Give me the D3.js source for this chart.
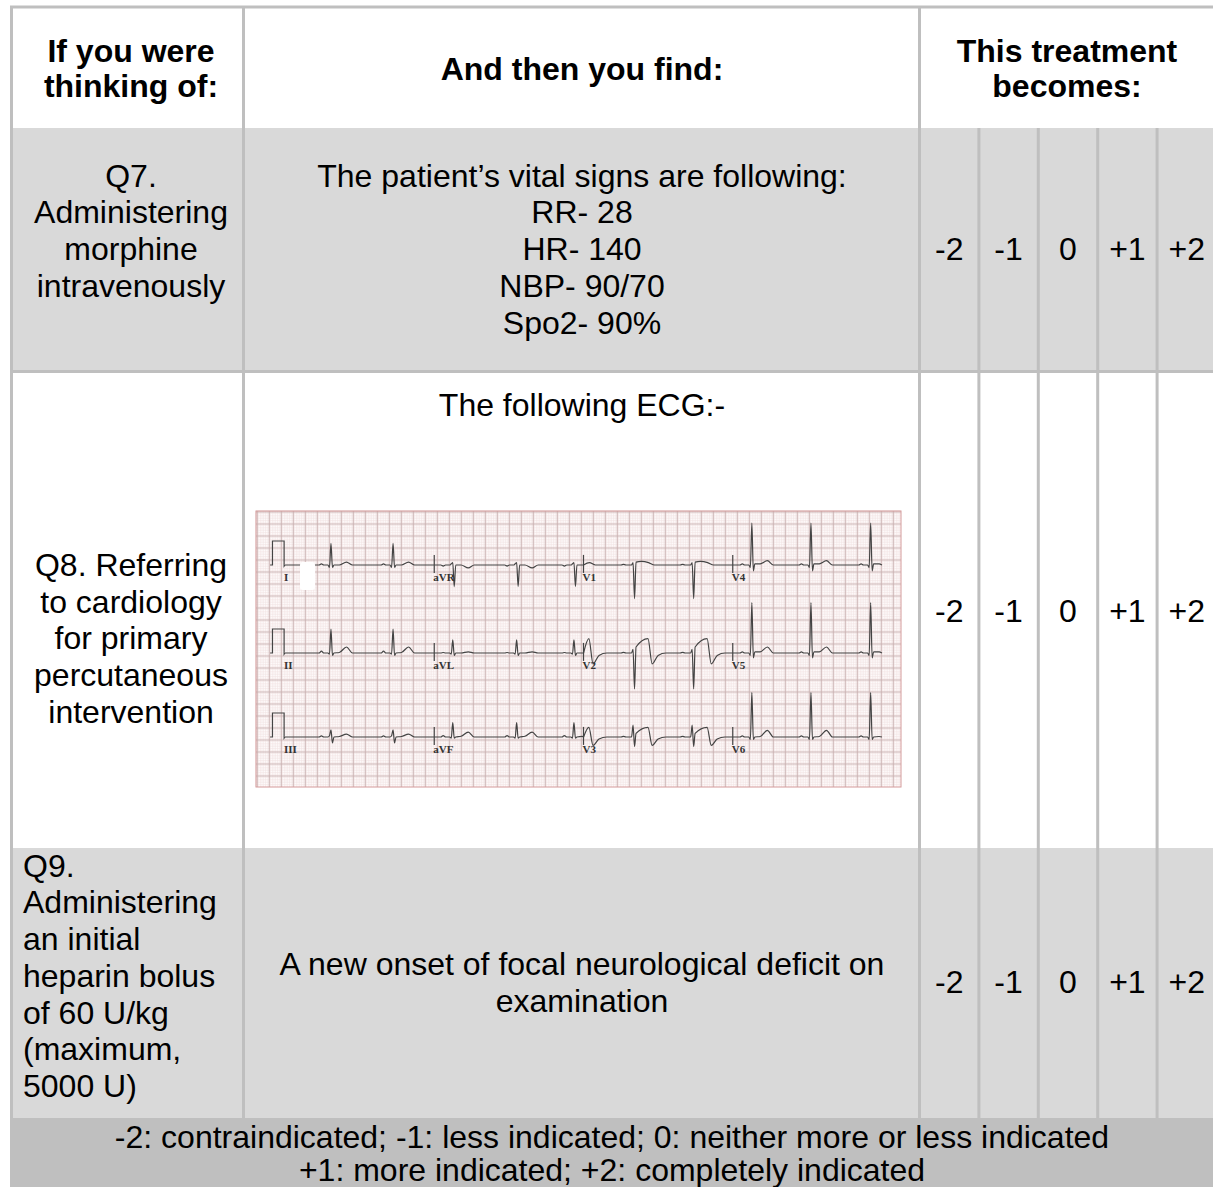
<!DOCTYPE html>
<html>
<head>
<meta charset="utf-8">
<script src="https://cdn.jsdelivr.net/npm/d3@7"></script>
<style>
  body { margin: 0; background: #fff; }
  svg { display: block; }
  text { font-family: "Liberation Sans", Arial, sans-serif; fill: #000; }
</style>
</head>
<body>
<svg id="chart"></svg>
<script>
// TEXT DATA
const headerLeft = ["If you were", "thinking of:"];
const headerMiddle = ["And then you find:"];
const headerRight = ["This treatment", "becomes:"];

const questions = [
  ["Q7.", "Administering", "morphine", "intravenously"],
  ["Q8. Referring", "to cardiology", "for primary", "percutaneous", "intervention"],
  ["Q9.", "Administering", "an initial", "heparin bolus", "of 60 U/kg", "(maximum,", "5000 U)"]
];
const findings = [
  ["The patient\u2019s vital signs are following:", "RR- 28", "HR- 140", "NBP- 90/70", "Spo2- 90%"],
  ["The following ECG:-"],
  ["A new onset of focal neurological deficit on", "examination"]
];
const scores = ["-2", "-1", "0", "+1", "+2"];
const legendLines = [
  "-2: contraindicated; -1: less indicated; 0: neither more or less indicated",
  "+1: more indicated; +2: completely indicated"
];

// ECG DATA (seconds, mV)
const beatTimes = [0.77, 1.81, 2.81, 3.88, 4.84, 5.83, 6.82, 7.82, 8.81, 9.81];
const leadRows = [["I", "aVR", "V1", "V4"], ["II", "aVL", "V2", "V5"], ["III", "aVF", "V3", "V6"]];
const leadOrder = ["I", "aVR", "V1", "V4", "II", "aVL", "V2", "V5", "III", "aVF", "V3", "V6"];
const leadP  = [0.05, -0.05, 0.03, 0.05, 0.08, 0.02, 0.03, 0.05, 0.05, 0.06, 0.03, 0.05];
const leadQ  = [-0.1, 0.05, 0, -0.1, -0.05, -0.05, 0, -0.1, 0.05, -0.05, 0, -0.1];
const leadR  = [0.9, 0.1, 0.1, 1.75, 1.0, 0.55, 0.15, 2.1, 0.3, 0.6, 0.5, 1.85];
const leadS  = [-0.1, -0.9, -1.4, -0.25, -0.1, -0.1, -1.5, -0.2, -0.25, -0.05, -0.4, -0.1];
const leadJ  = [0, 0, 0.12, 0.05, 0, 0, 0.25, 0.05, 0, 0, 0.15, 0];
const leadST = [0, 0, 0.15, 0.05, 0.02, 0, 0.6, 0.05, 0.02, 0.03, 0.4, 0.02];
const leadT  = [0.12, -0.12, 0.1, 0.18, 0.25, 0.05, -0.45, 0.25, 0.12, 0.2, -0.35, 0.28];
const leadU  = [0, 0, 0, 0, 0, 0, -0.1, 0, 0, 0, -0.08, 0];
const covedLeads = ["V2", "V3"];
const normalShape = [-0.2, -0.16, -0.12, -0.05, -0.025, 0, 0.025, 0.05, 0.14, 0.26, 0.36, 0.42];
const covedShape  = [-0.2, -0.16, -0.12, -0.05, -0.025, 0, 0.025, 0.05, 0.25, 0.32, 0.42, 0.55];
const calibPulse = [[-0.25, 0], [-0.21, 0], [-0.21, 1], [-0.015, 1], [-0.015, -0.05], [0, 0]];

// LAYOUT
const width = 1213, height = 1187;
const border = "#bfbfbf", rowGray = "#d9d9d9", footGray = "#bfbfbf";
const xLeft = 10, colA = 243.5, colB = 919.5, yTop = 7;
const rowEdges = [128, 370, 848, 1118];
const fontSize = 32, lineH = 36.7;

const svg = d3.select("#chart").attr("width", width).attr("height", height);

// ROW FILLS
svg.append("rect").attr("x", xLeft).attr("y", rowEdges[0]).attr("width", width - xLeft)
  .attr("height", rowEdges[1] - rowEdges[0]).attr("fill", rowGray);
svg.append("rect").attr("x", xLeft).attr("y", rowEdges[2]).attr("width", width - xLeft)
  .attr("height", rowEdges[3] - rowEdges[2]).attr("fill", rowGray);
svg.append("rect").attr("x", xLeft).attr("y", rowEdges[3]).attr("width", width - xLeft)
  .attr("height", height - rowEdges[3]).attr("fill", footGray);

// SCORE COLUMNS
const scoreX = d3.scaleBand().domain(scores).range([colB, colB + 5 * 59.4]);

// GRID LINES
const rules = svg.append("g").attr("stroke", border).attr("stroke-width", 3);
rules.append("line").attr("x1", xLeft).attr("x2", width).attr("y1", yTop).attr("y2", yTop);
rules.append("line").attr("x1", xLeft + 1.5).attr("x2", xLeft + 1.5).attr("y1", yTop).attr("y2", rowEdges[3]);
rules.append("line").attr("x1", colA).attr("x2", colA).attr("y1", yTop).attr("y2", rowEdges[3]);
rules.append("line").attr("x1", colB).attr("x2", colB).attr("y1", yTop).attr("y2", rowEdges[3]);
rules.append("line").attr("x1", xLeft).attr("x2", width).attr("y1", 371.5).attr("y2", 371.5);
rules.selectAll("line.score")
  .data(scores.slice(1))
  .enter()
  .append("line")
  .attr("class", "score")
  .attr("x1", (d) => scoreX(d)).attr("x2", (d) => scoreX(d))
  .attr("y1", rowEdges[0]).attr("y2", rowEdges[3]);

// TEXT HELPER
function textLines(g, arr, x, firstBase, anchor, weight, step) {
  g.selectAll(null)
    .data(arr)
    .enter()
    .append("text")
    .attr("x", x)
    .attr("y", (d, i) => firstBase + i * (step || lineH))
    .attr("text-anchor", anchor)
    .attr("font-size", fontSize)
    .attr("font-weight", weight)
    .text((d) => d);
}

// HEADER
const head = svg.append("g");
textLines(head, headerLeft, 131, 62, "middle", "bold", 35);
textLines(head, headerMiddle, 582, 80, "middle", "bold");
textLines(head, headerRight, 1067, 62, "middle", "bold", 35);

// BODY
const body = svg.append("g");
textLines(body, questions[0], 131, 186.7, "middle", "normal");
textLines(body, findings[0], 582, 186.7, "middle", "normal");
textLines(body, questions[1], 131, 576, "middle", "normal");
textLines(body, findings[1], 582, 416, "middle", "normal");
textLines(body, questions[2], 23, 876.7, "start", "normal");
textLines(body, findings[2], 582, 975, "middle", "normal");

const scoreBase = [260, 622, 993];
scoreBase.forEach((b) => {
  body.selectAll(null)
    .data(scores)
    .enter()
    .append("text")
    .attr("x", (d) => scoreX(d) + scoreX.bandwidth() / 2)
    .attr("y", b)
    .attr("text-anchor", "middle")
    .attr("font-size", fontSize)
    .text((d) => d);
});

// LEGEND
textLines(svg.append("g"), legendLines, 612, 1148, "middle", "normal", 33);

// ECG
const ecgBox = { x: 256, y: 511, w: 645, h: 276 };
const ecg = svg.append("g");
ecg.append("rect").attr("x", ecgBox.x).attr("y", ecgBox.y).attr("width", ecgBox.w)
  .attr("height", ecgBox.h).attr("fill", "#fdfafa");
const small = 2.4;
ecg.append("g").attr("stroke", "#f2e2e2").attr("stroke-width", 0.6)
  .selectAll("line").data(d3.range(ecgBox.x, ecgBox.x + ecgBox.w, small)).enter().append("line")
  .attr("x1", (d) => d).attr("x2", (d) => d).attr("y1", ecgBox.y).attr("y2", ecgBox.y + ecgBox.h);
ecg.append("g").attr("stroke", "#f2e2e2").attr("stroke-width", 0.6)
  .selectAll("line").data(d3.range(ecgBox.y, ecgBox.y + ecgBox.h, small)).enter().append("line")
  .attr("y1", (d) => d).attr("y2", (d) => d).attr("x1", ecgBox.x).attr("x2", ecgBox.x + ecgBox.w);
ecg.append("g").attr("stroke", "#c8b0b0").attr("stroke-width", 0.9)
  .selectAll("line").data(d3.range(ecgBox.x + 1.3, ecgBox.x + ecgBox.w, 12)).enter().append("line")
  .attr("x1", (d) => d).attr("x2", (d) => d).attr("y1", ecgBox.y).attr("y2", ecgBox.y + ecgBox.h);
ecg.append("g").attr("stroke", "#c8b0b0").attr("stroke-width", 0.9)
  .selectAll("line").data(d3.range(ecgBox.y + 1, ecgBox.y + ecgBox.h, 12)).enter().append("line")
  .attr("y1", (d) => d).attr("y2", (d) => d).attr("x1", ecgBox.x).attr("x2", ecgBox.x + ecgBox.w);
ecg.append("rect").attr("x", ecgBox.x).attr("y", ecgBox.y).attr("width", ecgBox.w)
  .attr("height", ecgBox.h).attr("fill", "none").attr("stroke", "#d49a9a").attr("stroke-width", 1);

const tx = d3.scaleLinear().domain([0, 10]).range([285, 882]);
const rowBase = [565, 653, 737];
const segLen = 2.5;

function leadPoints(name, t0, t1) {
  const k = leadOrder.indexOf(name);
  const shape = covedLeads.includes(name) ? covedShape : normalShape;
  const amps = [0, leadP[k], 0, 0, leadQ[k], leadR[k], leadS[k], leadJ[k], leadST[k], leadT[k], leadU[k], 0];
  const pts = [[t0 + 0.001, 0]];
  beatTimes.forEach((b) => {
    shape.forEach((s, i) => {
      const t = b + s;
      if (t > t0 + 0.002 && t < t1 - 0.002) pts.push([t, amps[i]]);
    });
  });
  pts.push([t1 - 0.001, 0]);
  return pts;
}

leadRows.forEach((row, r) => {
  const base = rowBase[r];
  const ty = d3.scaleLinear().domain([-1, 1]).range([base + 24, base - 24]);
  const g = ecg.append("g");

  g.append("path")
    .attr("d", d3.line().x((d) => tx(d[0])).y((d) => ty(d[1]))(calibPulse))
    .attr("fill", "none").attr("stroke", "#444").attr("stroke-width", 1.2);

  const wave = d3.line().x((d) => tx(d[0])).y((d) => ty(d[1])).curve(d3.curveMonotoneX);
  row.forEach((name, c) => {
    const t0 = c * segLen, t1 = (c + 1) * segLen;
    g.append("path")
      .attr("d", wave(leadPoints(name, t0, t1)))
      .attr("fill", "none").attr("stroke", "#444").attr("stroke-width", 1.2);
    if (c > 0) {
      g.append("line").attr("x1", tx(t0)).attr("x2", tx(t0))
        .attr("y1", ty(0.42)).attr("y2", ty(-0.33))
        .attr("stroke", "#444").attr("stroke-width", 1.2);
    }
    g.append("text")
      .attr("x", tx(t0) - 1)
      .attr("y", base + 16)
      .attr("font-weight", "bold")
      .attr("font-size", 11)
      .style("font-family", "'Liberation Serif', serif")
      .style("fill", "#333")
      .text(name);
  });
});

// white patch over lead I
ecg.append("rect").attr("x", 300).attr("y", 562).attr("width", 15).attr("height", 28)
  .attr("rx", 3).attr("fill", "#fff");
</script>
</body>
</html>
